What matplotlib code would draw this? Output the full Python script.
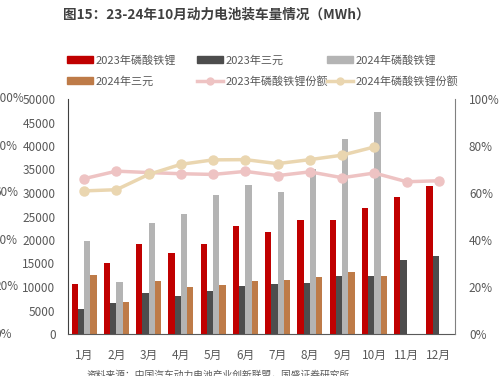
import matplotlib
matplotlib.use("Agg")
import matplotlib.pyplot as plt
import matplotlib.transforms as mtransforms
from matplotlib.patches import Patch
from matplotlib.lines import Line2D
import numpy as np

plt.rcParams['font.family'] = ['Noto Sans CJK SC', 'DejaVu Sans']

months = ['1月', '2月', '3月', '4月', '5月', '6月', '7月', '8月', '9月', '10月', '11月', '12月']
lfp_2023 = [10600, 15100, 19100, 17200, 19200, 22900, 21800, 24200, 24300, 26900, 29200, 31400]
ncm_2023 = [5400, 6700, 8800, 8100, 9100, 10200, 10600, 10900, 12300, 12400, 15800, 16700]
lfp_2024 = [19800, 11000, 23700, 25600, 29600, 31800, 30300, 35200, 41400, 47200]
ncm_2024 = [12600, 6900, 11300, 10000, 10500, 11200, 11500, 12200, 13200, 12300]
share_2023 = [66.1, 69.3, 68.7, 68.2, 67.9, 69.2, 67.4, 69.0, 66.5, 68.5, 64.8, 65.2]
share_2024 = [60.9, 61.4, 67.9, 72.2, 74.1, 74.2, 72.5, 74.2, 76.1, 79.6]
left_ticks = [0, 5000, 10000, 15000, 20000, 25000, 30000, 35000, 40000, 45000, 50000]
right_ticks = [0, 20, 40, 60, 80, 100]

c_red = '#C00000'
c_dark = '#4D4D4D'
c_gray = '#B4B4B4'
c_brown = '#BE7B48'
c_pink = '#EEC3C3'
c_beige = '#EAD6B0'
txt = '#595959'

fig = plt.figure(figsize=(5.01, 3.76), dpi=100)
ax = fig.add_axes([68/501, 1-334/376, (455-68)/501, (334-99)/376])
ax2 = ax.twinx()

x = np.arange(len(months))
w = 0.195
ax.bar(x - 1.5*w, lfp_2023, w, color=c_red, zorder=2)
ax.bar(x - 0.5*w, ncm_2023, w, color=c_dark, zorder=2)
x24 = np.arange(len(lfp_2024))
ax.bar(x24 + 0.5*w, lfp_2024, w, color=c_gray, zorder=2)
ax.bar(x24 + 1.5*w, ncm_2024, w, color=c_brown, zorder=2)

ax2.plot(x, share_2023, color=c_pink, lw=2.5, marker='o', ms=6.5, zorder=3)
ax2.plot(x24, share_2024, color=c_beige, lw=2.5, marker='o', ms=6.5, zorder=3)

ax.set_xlim(-0.5, 11.5)
ax.set_ylim(0, 50000)
ax2.set_ylim(0, 100)
ax.set_xticks(x)
ax.set_xticklabels(months)
ax.set_yticks(left_ticks)
ax.set_yticklabels([str(v) for v in left_ticks])
ax2.set_yticks(right_ticks)
ax2.set_yticklabels([f'{v}%' for v in right_ticks])

ax.tick_params(axis='x', length=0, pad=11, labelsize=8.5, colors=txt)
ax.tick_params(axis='y', length=0, pad=9, labelsize=8.5, colors=txt)
ax2.tick_params(axis='y', length=0, pad=10, labelsize=8.5, colors=txt)

for a in (ax, ax2):
    a.spines['top'].set_visible(False)
ax.spines['left'].set_color('#404040')
ax.spines['bottom'].set_color('#595959')
ax2.spines['left'].set_visible(False)
ax2.spines['bottom'].set_visible(False)
ax2.spines['right'].set_color('#808080')
ax.spines['right'].set_visible(False)

# stray cut-off percent axis on the far left
tr = mtransforms.blended_transform_factory(fig.transFigure, ax2.transData)
for v in right_ticks:
    fig.text(-6/501, v, f'{v}%', transform=tr, ha='left', va='center',
             fontsize=8.5, color=txt)

fig.text(63/501, 1-15/376, '图15：23-24年10月动力电池装车量情况（MWh）',
         fontsize=9.8, fontweight='bold', color='#404040', va='center', ha='left')

handles_cols = [
    [Patch(color=c_red, label='2023年磷酸铁锂'), Patch(color=c_brown, label='2024年三元')],
    [Patch(color=c_dark, label='2023年三元'),
     Line2D([], [], color=c_pink, lw=2.5, marker='o', ms=5, label='2023年磷酸铁锂份额')],
    [Patch(color=c_gray, label='2024年磷酸铁锂'),
     Line2D([], [], color=c_beige, lw=2.5, marker='o', ms=5, label='2024年磷酸铁锂份额')],
]
col_x = [67, 197, 327]
for hx, hs in zip(col_x, handles_cols):
    fig.legend(handles=hs, loc='upper left', bbox_to_anchor=(hx/501, 1-55/376),
               frameon=False, fontsize=8, handlelength=2.35, handleheight=0.6,
               handletextpad=0.25, labelspacing=0.95, borderaxespad=0,
               borderpad=0, labelcolor=txt)

fig.text(87/501, 1-370/376, '资料来源：中国汽车动力电池产业创新联盟，国盛证券研究所',
         fontsize=7, color=txt, ha='left', va='top')

fig.savefig('out.png', dpi=100)
